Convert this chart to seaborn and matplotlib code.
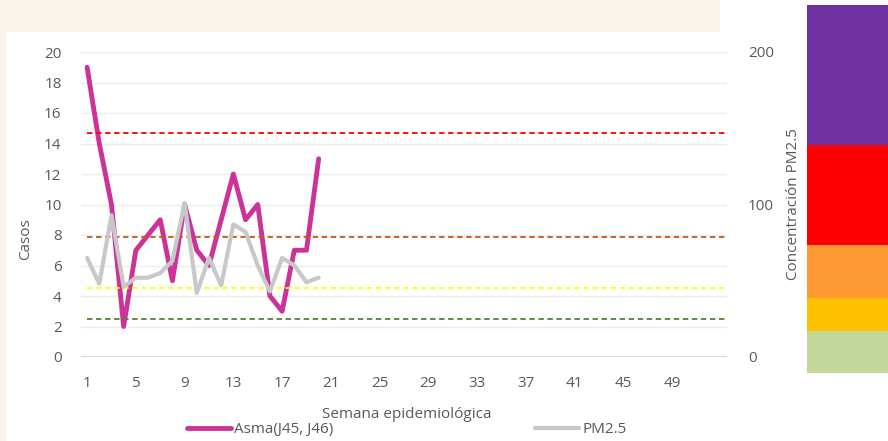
import numpy as np
import pandas as pd
import seaborn as sns
import matplotlib.pyplot as plt
from matplotlib.patches import Rectangle


# semanas 1-20 con datos, eje hasta la semana 53
semanas = list(range(1, 21))
asma = [19, 14, 10, 2, 7, 8, 9, 5, 10, 7, 6, 9, 12, 9, 10, 4, 3, 7, 7, 13]
pm25 = [65, 48, 93, 46, 52, 52, 55, 63, 101, 42, 65, 47, 87, 82, 60, 43, 65, 60, 49, 52]
tick_semanas = list(range(1, 53, 4))
n_semanas = 53

# limites de calidad del aire PM2.5
umbrales = [25, 45, 79, 147]
umbral_colores = ['#548235', '#ffff00', '#c55a11', '#ff0000']

# barra de colores a la derecha (de abajo hacia arriba)
banda_colores = ['#c4d79b', '#ffc000', '#ff9933', '#ff0000', '#7030a0']
banda_alto = [42, 33, 53, 100, 140]

sns.set_theme(style='white')
plt.rcParams['font.family'] = ['Open Sans', 'DejaVu Sans']
gris = '#595959'

W, H = 888, 441
fig = plt.figure(figsize=(W / 100, H / 100), dpi=100)
fig.patch.set_facecolor('white')

# fondo beige con marca de agua
fig.add_artist(Rectangle((0, 1 - 32 / H), 720 / W, 32 / H, transform=fig.transFigure,
                         facecolor='#faf4ea', edgecolor='none', zorder=0))
fig.add_artist(Rectangle((0, 0), 6 / W, 1, transform=fig.transFigure,
                         facecolor='#faf4ea', edgecolor='none', zorder=0))

# barra de colores
axb = fig.add_axes([807 / W, (H - 373) / H, (W - 807) / W, (373 - 5) / H])
base = 0
for c, h in zip(banda_colores, banda_alto):
    axb.bar(0, h, bottom=base, width=1, color=c, edgecolor='none')
    base += h
axb.set_xlim(-0.5, 0.5)
axb.set_ylim(0, base)
axb.axis('off')

ax = fig.add_axes([81 / W, (H - 357) / H, (727 - 81) / W, (357 - 52) / H])
ax.set_facecolor('none')
ax2 = ax.twinx()

df = pd.DataFrame({'semana': semanas, 'asma': asma, 'pm': pm25})

ax.set_ylim(0, 20)
ax.set_yticks(range(0, 21, 2))
ax.set_xlim(0.5, n_semanas + 0.5)
ax.set_xticks(tick_semanas)
for y in range(2, 21, 2):
    ax.axhline(y, color='#ebebeb', lw=1, zorder=0)
ax.axhline(0, color='#d0d0d0', lw=1.2, zorder=0)

sns.lineplot(data=df, x='semana', y='asma', ax=ax, color='#cc3399', lw=3.5,
             label='Asma(J45, J46)', legend=False, zorder=3)

ax2.set_ylim(0, 200)
ax2.set_yticks([0, 100, 200])
for u, c in zip(umbrales, umbral_colores):
    ax2.hlines(u, semanas[0], n_semanas + 0.5, colors=c, linestyles=(0, (3, 2)), lw=1.3, zorder=2)
sns.lineplot(data=df, x='semana', y='pm', ax=ax2, color='#c8c8c8', lw=3.0,
             label='PM2.5', legend=False, zorder=4)

for a in (ax, ax2):
    for s in a.spines.values():
        s.set_visible(False)
    a.tick_params(length=0, labelsize=11, labelcolor=gris)
    a.set_xlabel('')
    a.set_ylabel('')
ax.tick_params(axis='y', pad=14)
ax.tick_params(axis='x', pad=14)
ax2.tick_params(axis='y', pad=15)

ax.set_ylabel('Casos', fontsize=11, color=gris)
ax.set_xlabel('Semana epidemiológica', fontsize=11, color=gris)
ax2.set_ylabel('Concentración PM2.5', fontsize=11, color=gris)
ax.yaxis.set_label_coords(-0.074, 0.385)
ax2.yaxis.set_label_coords(1.092, 0.5)
ax.xaxis.set_label_coords(0.505, -0.165)

h1, l1 = ax.get_legend_handles_labels()
h2, l2 = ax2.get_legend_handles_labels()
leg = fig.legend(h1 + h2, l1 + l2, loc='center', bbox_to_anchor=(0.458, 0.025), ncol=2,
                 frameon=False, fontsize=11, handlelength=2.9, handletextpad=0.2,
                 columnspacing=13.2, borderpad=0)
for t in leg.get_texts():
    t.set_color(gris)

fig.savefig('out.png', dpi=100, facecolor=fig.get_facecolor())
